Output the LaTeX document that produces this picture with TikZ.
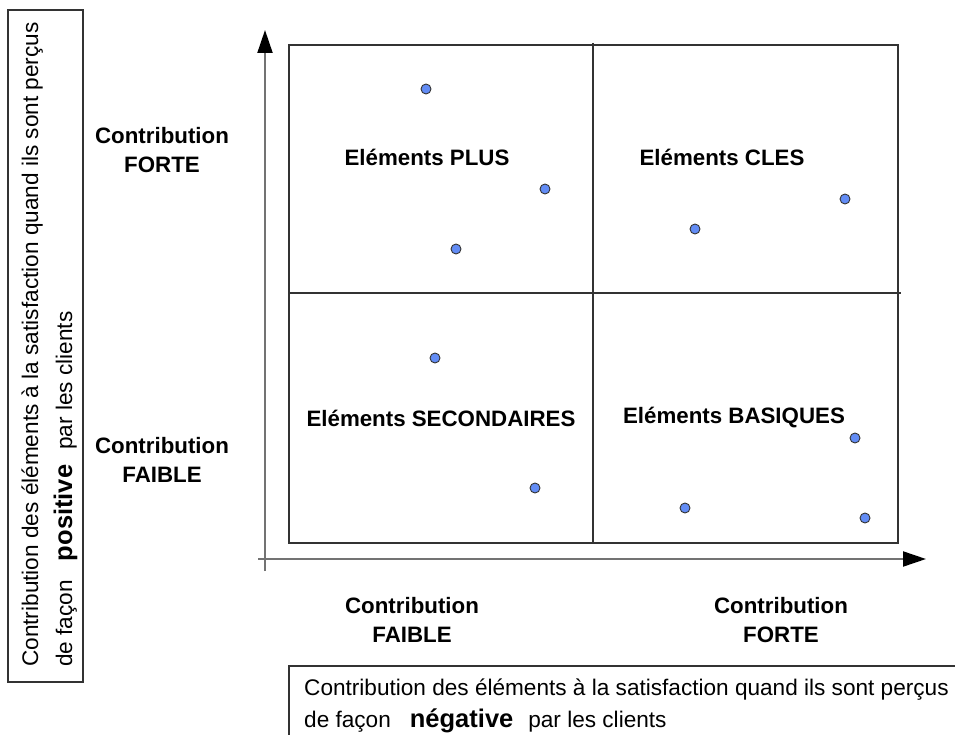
\documentclass[tikz,border=0pt]{standalone}
\usepackage{fontspec}
\setmainfont{Liberation Sans}
\usetikzlibrary{arrows.meta}
\definecolor{dotblue}{RGB}{98,140,245}
\begin{document}
\begin{tikzpicture}[x=1pt,y=-1pt,
 frame/.style={draw=black!80, line width=1.2pt},
 axisline/.style={draw=black!55, line width=2pt, -{Triangle[length=23pt,width=15pt,fill=black,color=black]}},
 dot/.style={circle, draw=black!80, fill=dotblue, line width=0.9pt, inner sep=0pt, minimum size=10pt},
 qlabel/.style={font=\fontsize{22.3}{26}\selectfont\bfseries, inner sep=0pt},
 clabel/.style={font=\fontsize{22.3}{29}\selectfont\bfseries, align=center, inner sep=0pt},
 desc/.style={font=\fontsize{22.6}{29}\selectfont, inner sep=0pt, anchor=base west},
 big/.style={font=\fontsize{25.5}{29}\selectfont\bfseries}]
\useasboundingbox (0,0) rectangle (955,735);
\fill[white] (0,0) rectangle (955,735);

% left description box
\coordinate (lb1) at (8,10);
\coordinate (lb2) at (83,682);
\draw[frame] (lb1) rectangle (lb2);
\node[desc, rotate=90] (ltext1) at (38,667)
 {Contribution des éléments à la satisfaction quand ils sont perçus};
\node[desc, rotate=90] (ltext2) at (72,667)
 {de façon\hspace{19pt}{\fontsize{25.5}{29}\selectfont\bfseries positive}\hspace{15pt}par les clients};

% bottom description box
\coordinate (bb1) at (289,666);
\coordinate (bb2) at (975,760);
\draw[frame] (bb1) rectangle (bb2);
\node[desc] (btext1) at (304,695)
 {Contribution des éléments à la satisfaction quand ils sont perçus};
\node[desc] (btext2) at (304,727)
 {de façon\hspace{19pt}{\fontsize{25.5}{29}\selectfont\bfseries négative}\hspace{15pt}par les clients};

% axes
\coordinate (ystart) at (265,571);
\coordinate (yend) at (265,30);
\coordinate (xstart) at (258,559);
\coordinate (xend) at (926,559);
\draw[axisline] (ystart) -- (yend);
\draw[axisline] (xstart) -- (xend);

% grid
\coordinate (g1) at (289,45);
\coordinate (g2) at (898,543);
\coordinate (vt) at (593,43);
\coordinate (vb) at (593,543);
\coordinate (hl) at (289,293);
\coordinate (hr) at (901,293);
\draw[frame] (g1) rectangle (g2);
\draw[frame] (vt) -- (vb);
\draw[frame] (hl) -- (hr);

% quadrant labels
\node[qlabel] (plus) at (427,157) {Eléments PLUS};
\node[qlabel] (cles) at (722,157) {Eléments CLES};
\node[qlabel] (sec) at (441,418) {Eléments SECONDAIRES};
\node[qlabel] (bas) at (734,418) {Eléments BASIQUES};

% axis labels
\node[clabel] (yforte) at (162,150) {Contribution\\FORTE};
\node[clabel] (yfaible) at (162,460) {Contribution\\FAIBLE};
\node[clabel] (xfaible) at (412,620) {Contribution\\FAIBLE};
\node[clabel] (xforte) at (781,620) {Contribution\\FORTE};

% dots
\node[dot] (d1) at (426,89) {};
\node[dot] (d2) at (545,189) {};
\node[dot] (d3) at (456,249) {};
\node[dot] (d4) at (695,229) {};
\node[dot] (d5) at (845,199) {};
\node[dot] (d6) at (435,358) {};
\node[dot] (d7) at (535,488) {};
\node[dot] (d8) at (855,438) {};
\node[dot] (d9) at (685,508) {};
\node[dot] (d10) at (865,518) {};
\end{tikzpicture}
\end{document}
